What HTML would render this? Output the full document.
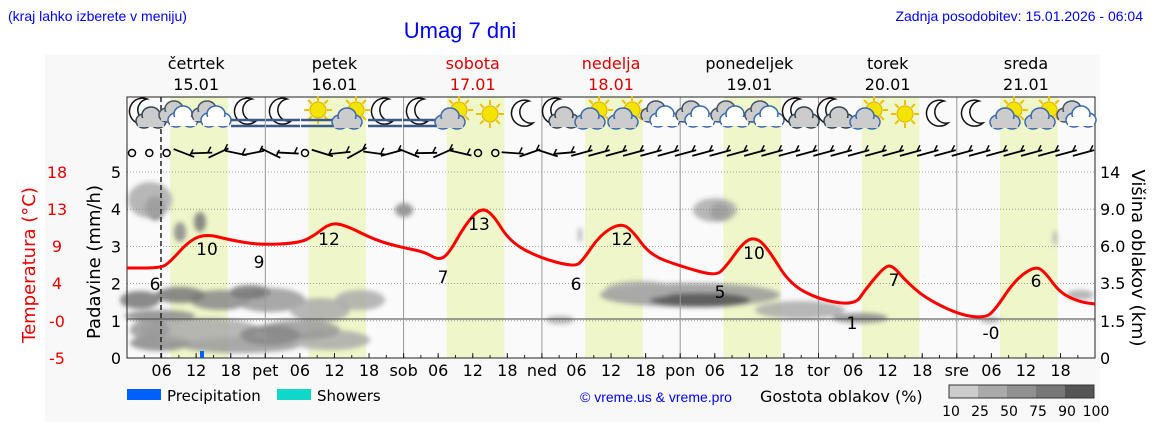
<!DOCTYPE html>
<html><head><meta charset="utf-8"><style>
body{margin:0;background:#fff;width:1152px;height:443px;overflow:hidden;font-family:"Liberation Sans","DejaVu Sans",sans-serif}
svg text{font-family:"DejaVu Sans","Liberation Sans",sans-serif}
</style></head><body>
<svg id="s" width="1152" height="443" xmlns="http://www.w3.org/2000/svg">
<defs><filter id="bl" x="-50%" y="-50%" width="200%" height="200%"><feGaussianBlur stdDeviation="2.5"/></filter></defs>
<rect x="45" y="55" width="35" height="367" fill="#f8f8f8"/>
<rect x="80" y="55" width="1020" height="367" fill="#f8f8f8"/>
<text x="8" y="21" font-size="14" fill="#0000ff" style="font-family:'Liberation Sans'">(kraj lahko izberete v meniju)</text>
<text x="460" y="38" font-size="22" fill="#0000ff" text-anchor="middle" style="font-family:'Liberation Sans'">Umag 7 dni</text>
<text x="1143" y="21" font-size="14" fill="#0000ff" text-anchor="end" style="font-family:'Liberation Sans'">Zadnja posodobitev: 15.01.2026 - 06:04</text>
<g id="g"></g>
</svg>
<script>
const g=document.getElementById('g');let h='';
const X0=127,DW=138.3,PH=DW/24,T=97,B=358;
const yv=v=>358-v*37.2;
h+=`<rect x="${X0}" y="${T}" width="968" height="${B-T}" fill="#fafafa"/>`;
for(let d=0;d<7;d++){const x=X0+d*DW;h+=`<rect x="${x+7.5*PH}" y="${T}" width="${10*PH}" height="${B-T}" fill="#eff6c9"/>`;}
const cl=[[160,343,30,8,'#888'],[240,345,60,8,'#999'],[330,340,40,10,'#aaa'],[140,300,20,9,'#777'],[160,316,35,6,'#888'],[220,300,30,10,'#888'],[270,300,35,12,'#999'],[320,310,30,12,'#aaa'],[360,300,25,10,'#aaa'],[200,330,60,12,'#aaa'],[300,330,40,10,'#999'],[180,295,25,8,'#777'],[250,292,20,7,'#777'],[150,330,20,10,'#999'],[270,335,30,10,'#888'],[155,208,10,12,'#555'],[150,200,22,18,'#aaa'],[200,222,6,10,'#777'],[180,232,6,10,'#888'],[404,210,9,7,'#888'],[720,212,10,9,'#555'],[715,210,22,12,'#aaa'],[690,295,90,12,'#999'],[700,300,50,7,'#555'],[640,290,35,9,'#aaa'],[800,310,45,9,'#aaa'],[860,318,28,5,'#888'],[1080,295,14,5,'#aaa'],[560,320,14,4,'#aaa'],[990,320,10,3,'#aaa'],[1055,238,2,8,'#aaa'],[580,235,2,8,'#aaa']];
h+='<g filter="url(#bl)">';cl.forEach(c=>h+=`<ellipse cx="${c[0]}" cy="${c[1]}" rx="${c[2]}" ry="${c[3]}" fill="${c[4]}" opacity="0.85"/>`);h+='</g>';
for(let i=1;i<=5;i++)h+=`<line x1="${X0}" x2="1095" y1="${yv(i)}" y2="${yv(i)}" stroke="#888" stroke-dasharray="1,2" stroke-width="0.8"/>`;
h+=`<line x1="${X0}" x2="1095" y1="319" y2="319" stroke="#444" stroke-width="1"/>`;
for(let d=1;d<7;d++){const x=X0+d*DW;h+=`<line x1="${x}" x2="${x}" y1="${T}" y2="${B}" stroke="#999"/>`;}
h+=`<line x1="161" x2="161" y1="${T}" y2="${B}" stroke="#222" stroke-width="1.5" stroke-dasharray="5,3"/>`;
h+=`<rect x="${X0}" y="${T}" width="968" height="${B-T}" fill="none" stroke="#222" stroke-width="1"/>`;
const dn=['','pet','sob','ned','pon','tor','sre'];
for(let d=0;d<7;d++){for(let k=0;k<4;k++){const x=X0+d*DW+k*6*PH;const lab=k==0?dn[d]:['','06','12','18'][k];
 h+=`<line x1="${x}" x2="${x}" y1="${B}" y2="${B-5}" stroke="#222"/>`; if(lab)h+=`<text x="${x}" y="376" font-size="16" text-anchor="middle">${lab}</text>`;}
 for(let k=0;k<8;k++){const x=X0+d*DW+k*3*PH;h+=`<line x1="${x}" x2="${x}" y1="${B}" y2="${B-3}" stroke="#222"/>`;}}
const days=[['četrtek','15.01','#000'],['petek','16.01','#000'],['sobota','17.01','#d00'],['nedelja','18.01','#d00'],['ponedeljek','19.01','#000'],['torek','20.01','#000'],['sreda','21.01','#000']];
days.forEach((d,i)=>{const x=X0+i*DW+12*PH;h+=`<text x="${x}" y="69" font-size="16" text-anchor="middle" fill="${d[2]}">${d[0]}</text><text x="${x}" y="90" font-size="16" text-anchor="middle" fill="${d[2]}">${d[1]}</text>`;});
for(let i=0;i<=5;i++)h+=`<text x="121" y="${yv(i)+6}" font-size="16" text-anchor="end">${i}</text>`;
const tl=[['18',172],['13',209],['9',246],['4',283],['-0',321],['-5',358]];
tl.forEach(t=>h+=`<text x="57" y="${t[1]+6}" font-size="16" text-anchor="middle" fill="#e00">${t[0]}</text>`);
const rl=[['14',172],['9.0',209],['6.0',246],['3.5',283],['1.5',321],['0',358]];
rl.forEach(t=>h+=`<text x="1100" y="${t[1]+6}" font-size="16">${t[0]}</text>`);
h+=`<text transform="translate(35,265) rotate(-90)" font-size="18" fill="#e00" text-anchor="middle">Temperatura (°C)</text>`;
h+=`<text transform="translate(100,262) rotate(-90)" font-size="18" text-anchor="middle">Padavine (mm/h)</text>`;
h+=`<text transform="translate(1132,258) rotate(90)" font-size="18" text-anchor="middle">Višina oblakov (km)</text>`;
const p=[[127,268],[161,268],[170,262],[190,240],[207,234],[230,240],[260,245],[300,243],[315,235],[330,223],[345,225],[375,240],[400,247],[425,252],[438,260],[448,255],[465,225],[480,208],[492,213],[510,242],[540,258],[575,267],[583,260],[600,235],[620,223],[632,230],[650,255],[680,266],[715,276],[725,268],[745,240],[758,238],[770,252],[790,284],[820,300],[855,305],[865,290],[885,266],[893,266],[905,280],[925,298],[960,315],[985,318],[995,310],[1015,280],[1035,266],[1045,272],[1060,293],[1080,302],[1095,304]];
let d='M'+p[0].join(',');for(let i=1;i<p.length;i++){const a=p[i-1],b=p[i];const mx=(a[0]+b[0])/2;d+=` Q${a[0]},${a[1]} ${mx},${(a[1]+b[1])/2}`;}d+=' L1095,304';
h+=`<path d="${d}" fill="none" stroke="#f00" stroke-width="3"/>`;
const tv=[['6',155,290],['10',207,255],['9',259,268],['12',329,245],['7',443,283],['13',479,230],['6',576,290],['12',622,245],['5',720,298],['10',754,259],['1',852,329],['7',894,286],['-0',991,339],['6',1036,287]];
tv.forEach(t=>h+=`<text x="${t[1]}" y="${t[2]}" font-size="17" text-anchor="middle">${t[0]}</text>`);
h+=`<rect x="200" y="351" width="4" height="7" fill="#0060ff"/>`;
const ix=[147,180,213,248,283,318,352,385,420,455,490,525,560,595,628,662,697,732,766,800,835,870,905,940,975,1010,1045,1078];
const it=['mc','c','c','mf','mf','sf','sc','mf','mf','sc','s','m','mc','sc','sc','c','c','c','c','mc','mc','sc','s','m','m','sc','sc','c'];
function moon(x,y){return `<path d="M${x+4},${y-13} A13,13 0 1 0 ${x+8},${y+9} A11,11 0 1 1 ${x+4},${y-13}Z" fill="#fff" stroke="#111" stroke-width="1.5"/>`;}
function sun(x,y){let s='';for(let a=0;a<8;a++){const r=a*Math.PI/4;s+=`<line x1="${x+Math.cos(r)*9}" y1="${y+Math.sin(r)*9}" x2="${x+Math.cos(r)*14}" y2="${y+Math.sin(r)*14}" stroke="#f0c000" stroke-width="2"/>`;}return s+`<circle cx="${x}" cy="${y}" r="8" fill="#f5e400" stroke="#e0b000"/>`;}
function cloud(x,y,c,st){return `<g fill="${c}" stroke="${st}" stroke-width="1.5"><ellipse cx="${x-7}" cy="${y+3}" rx="8" ry="7"/><ellipse cx="${x+7}" cy="${y+3}" rx="8" ry="7"/><ellipse cx="${x}" cy="${y-3}" rx="9" ry="8"/></g><rect x="${x-13}" y="${y}" width="26" height="9" fill="${c}"/>`;}
function fog(x,y){return `<g stroke="#3a5a8a" stroke-width="2.5"><line x1="${x-17}" x2="${x+17}" y1="${y}" y2="${y}"/><line x1="${x-17}" x2="${x+17}" y1="${y+6}" y2="${y+6}"/></g>`;}
ix.forEach((x,i)=>{const t=it[i],y=114;
 if(t=='m')h+=moon(x,y);
 if(t=='mc'){h+=moon(x-4,y-2)+cloud(x+4,y+4,'#ccc','#345');}
 if(t=='c'){h+=cloud(x-6,y-2,'#ccc','#456')+cloud(x+3,y+3,'#fff','#3a6ab0');}
 if(t=='mf'){h+=moon(x,y-2)+fog(x,y+6);}
 if(t=='s')h+=sun(x,y);
 if(t=='sc'){h+=sun(x+4,y-4)+cloud(x-5,y+5,'#ccc','#3a6ab0');}
 if(t=='sf'){h+=sun(x,y-4)+fog(x,y+6);}
});
for(let i=0;i<56;i++){const x=X0+5+i*17.3,y=153;
 if(i<3||i==10||i==20||i==21){h+=`<circle cx="${x}" cy="${y}" r="3.5" fill="none" stroke="#000" stroke-width="1.5"/>`;continue;}
 const a=(i<26?(i*37%60-30):-15)*Math.PI/180;const dx=Math.cos(a)*11,dy=Math.sin(a)*11;
 h+=`<line x1="${x-dx}" y1="${y-dy}" x2="${x+dx}" y2="${y+dy}" stroke="#000" stroke-width="1.8"/><line x1="${x+dx*0.6}" y1="${y+dy*0.6}" x2="${x+dx*0.6+3}" y2="${y+dy*0.6-6}" stroke="#000" stroke-width="1.5"/>`;}
h+=`<rect x="127" y="389" width="34" height="11" fill="#0060ff"/><text x="167" y="401" font-size="15">Precipitation</text>`;
h+=`<rect x="277" y="389" width="34" height="11" fill="#10d8c8"/><text x="317" y="401" font-size="15">Showers</text>`;
h+=`<text x="580" y="402" font-size="14" fill="#0000ff" style="font-family:'Liberation Sans'">© vreme.us &amp; vreme.pro</text>`;
h+=`<text x="760" y="402" font-size="16">Gostota oblakov (%)</text>`;
const gc=['#ccc','#aaa','#909090','#777','#555'];gc.forEach((c,i)=>h+=`<rect x="${949+i*29}" y="385" width="29" height="13" fill="${c}"/>`);
h+=`<rect x="949" y="385" width="145" height="13" fill="none" stroke="#333"/>`;
['10','25','50','75','90','100'].forEach((t,i)=>h+=`<text x="${951+i*29}" y="416" font-size="14" text-anchor="middle">${t}</text>`);
g.innerHTML=h;
</script>
</body></html>
